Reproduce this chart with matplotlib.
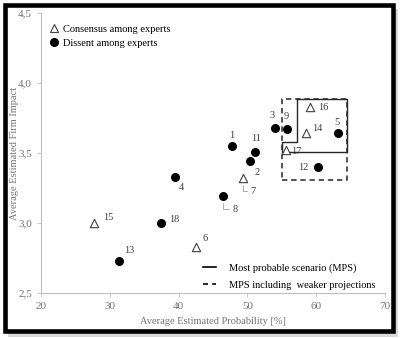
import matplotlib
matplotlib.use("Agg")
import matplotlib.pyplot as plt
from matplotlib.lines import Line2D
from matplotlib.patches import Rectangle
from matplotlib.ticker import FuncFormatter

plt.rcParams['font.family'] = ['Liberation Serif', 'DejaVu Serif']

# scenario data
ids = [1, 2, 3, 4, 5, 6, 7, 8, 9, 11, 12, 13, 14, 15, 16, 17, 18]
prob = [47.7, 50.4, 54.0, 39.5, 63.2, 42.5, 49.4, 46.5, 55.7, 51.1, 60.2, 31.4, 58.5, 27.7, 59.1, 55.6, 37.4]
impact = [3.55, 3.44, 3.68, 3.33, 3.64, 2.83, 3.32, 3.19, 3.67, 3.51, 3.40, 2.73, 3.64, 3.00, 3.83, 3.52, 3.00]
consensus = [False, False, False, False, False, True, True, False, False, False, False, False, True, True, True, True, False]

# most probable scenario region (solid) and region with weaker projections (dashed)
mps_x = [57.16, 64.5, 64.5, 55.0, 55.0, 57.16, 57.16]
mps_y = [3.883, 3.883, 3.505, 3.505, 3.58, 3.58, 3.883]
weak_x = [55.0, 64.5]
weak_y = [3.307, 3.883]

# label offsets in pixels (dx, dy) and leader style
offsets = {1: (0, 11), 2: (7, -11), 3: (-3, 12), 4: (6, -11), 5: (-1, 11),
           6: (9, 8), 7: (10, -13), 8: (12, -13), 9: (0, 13), 11: (1, 13),
           12: (-14, -1), 13: (10, 10), 14: (11, 5), 15: (14, 5), 16: (13, -1),
           17: (10, -1), 18: (14, 3)}
leaders = {6: 'line', 13: 'line', 15: 'line', 16: 'line', 18: 'line',
           7: 'angle', 8: 'angle'}

fig = plt.figure(figsize=(4.03, 3.38), dpi=100)
ax = fig.add_axes([41 / 403, 45 / 338, 344 / 403, 280 / 338])

grey = '#bfbfbf'
txt = '#737373'

for i, x, y, c in zip(ids, prob, impact, consensus):
    if c:
        ax.scatter(x, y, marker='^', s=36, facecolors='white',
                   edgecolors='#404040', linewidths=0.8, zorder=4)
    else:
        ax.scatter(x, y, marker='o', s=30, color='black', zorder=4)
    dx, dy = offsets[i]
    style = leaders.get(i)
    kw = {}
    if style == 'line':
        kw['arrowprops'] = dict(arrowstyle='-', color='#8c8c8c', lw=0.5,
                                shrinkA=3, shrinkB=4)
    elif style == 'angle':
        kw['arrowprops'] = dict(arrowstyle='-', color='#8c8c8c', lw=0.5,
                                shrinkA=1, shrinkB=5,
                                connectionstyle='angle,angleA=180,angleB=90,rad=0')
    ax.annotate(str(i), (x, y), xytext=(dx, dy), textcoords='offset pixels',
                ha='center', va='center', fontsize=7.5, color='#404040', **kw)

# regions
ax.plot([weak_x[0], weak_x[1], weak_x[1], weak_x[0], weak_x[0]],
        [weak_y[0], weak_y[0], weak_y[1], weak_y[1], weak_y[0]],
        color='#262626', lw=1.1, ls=(0, (3.5, 2.5)), zorder=2)
ax.plot(mps_x, mps_y, color='#262626', lw=1.0, zorder=3)

ax.set_xlim(20, 70)
ax.set_ylim(2.5, 4.5)
ax.set_xticks([20, 30, 40, 50, 60, 70])
ax.set_yticks([2.5, 3.0, 3.5, 4.0, 4.5])
ax.yaxis.set_major_formatter(FuncFormatter(lambda v, p: f'{v:.1f}'.replace('.', ',')))
for s in ['top', 'right']:
    ax.spines[s].set_visible(False)
for s in ['left', 'bottom']:
    ax.spines[s].set_color(grey)
    ax.spines[s].set_linewidth(0.8)
ax.tick_params(colors=grey, labelcolor=txt, labelsize=8, length=3, width=0.6)
ax.set_xlabel('Average Estimated Probability [%]', fontsize=7.5, color=txt, labelpad=4)
ax.set_ylabel('Average Estimated Firm Impact', fontsize=7.5, color=txt)
ax.yaxis.set_label_coords(-0.063, 0.5)

# legends
h1 = [Line2D([], [], marker='^', ls='none', mfc='white', mec='#404040', mew=0.8, ms=6),
      Line2D([], [], marker='o', ls='none', color='black', ms=5.5)]
leg1 = ax.legend(h1, ['Consensus among experts', 'Dissent among experts'],
                 loc='upper left', bbox_to_anchor=(0.0, 0.985), frameon=False,
                 fontsize=7.5, handlelength=1.0, handletextpad=0.4, labelspacing=0.45,
                 borderaxespad=0.3)
ax.add_artist(leg1)
h2 = [Line2D([], [], color='black', lw=1.2),
      Line2D([], [], color='black', lw=1.2, ls=(0, (3, 2.5)))]
ax.legend(h2, ['Most probable scenario (MPS)', 'MPS including  weaker projections'],
          loc='lower right', bbox_to_anchor=(0.995, -0.015), frameon=False,
          fontsize=7.5, handlelength=1.25, handletextpad=1.25, labelspacing=0.75,
          borderaxespad=0.3)

# frame with shadow around the whole picture
W, H = 403, 338
fig.patches.append(Rectangle((8 / W, 1 / H), 390 / W, 328 / H, transform=fig.transFigure,
                             facecolor='#d9d9d9', edgecolor='none', zorder=-2))
fig.patches.append(Rectangle((4.7 / W, (H - 330.5) / H), 387.8 / W, 325.2 / H,
                             transform=fig.transFigure, facecolor='white',
                             edgecolor='black', lw=3.3, zorder=-1))

fig.savefig('out.png', dpi=100)
